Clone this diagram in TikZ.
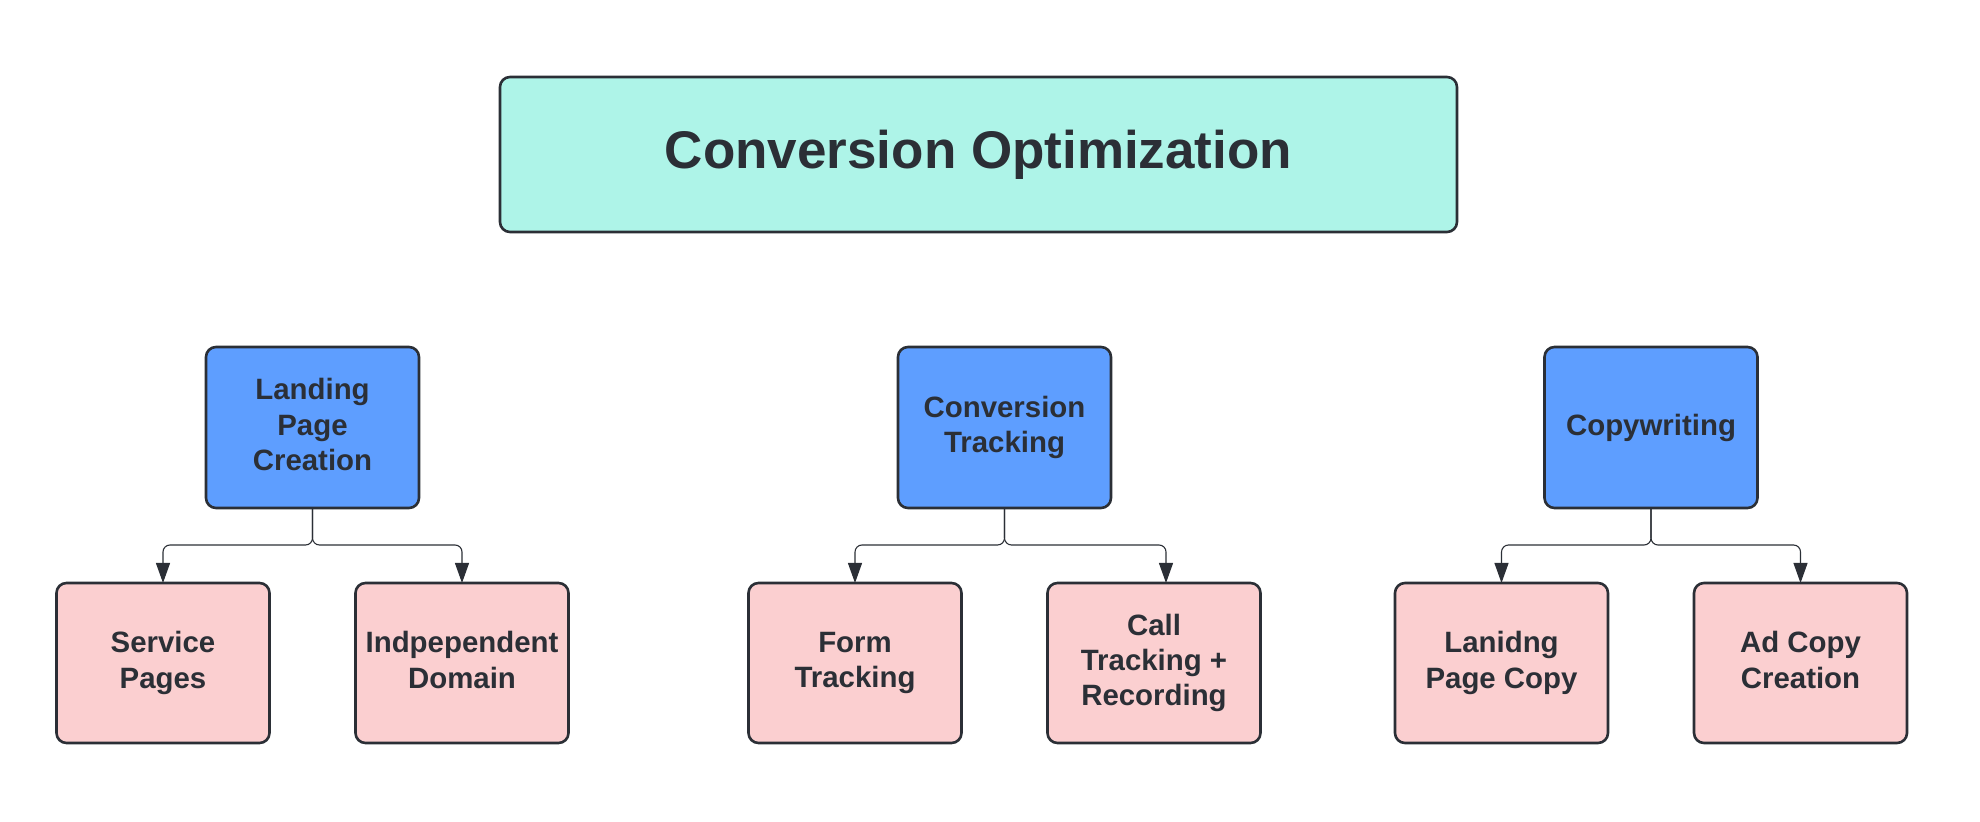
\documentclass[tikz,border=0pt]{standalone}
\usepackage{fontspec}
\setmainfont{Liberation Sans}
\usetikzlibrary{arrows.meta,positioning}
\definecolor{inkdark}{HTML}{2B2F36}
\definecolor{titlefill}{HTML}{AEF4E8}
\definecolor{topicfill}{HTML}{5E9EFF}
\definecolor{leaffill}{HTML}{FBCFD0}
\tikzset{
  titlebox/.style={rectangle, rounded corners=5pt, draw=inkdark, line width=1.3pt, outer sep=0pt, fill=titlefill, minimum width=478.5pt, minimum height=77.5pt, align=center, text=inkdark, font=\fontsize{26.5}{32}\selectfont\bfseries},
  topic/.style={rectangle, rounded corners=5pt, draw=inkdark, line width=1.3pt, outer sep=0pt, fill=topicfill, minimum width=106.5pt, minimum height=80.5pt, align=center, text=inkdark, text depth=3.1pt, font=\fontsize{14.7}{17.7}\selectfont\bfseries, inner sep=2pt},
  leaf/.style={topic, fill=leaffill, minimum height=80pt},
  conn/.style={-{Triangle[length=10pt,width=7pt]}, draw=inkdark, line width=0.55pt, rounded corners=3.5pt},
}

\begin{document}
\begin{tikzpicture}[node distance=37.5pt]
\useasboundingbox (0,0) rectangle (990pt,-411pt);
\node[titlebox] (opt) at (489.25pt,-77.25pt) {Conversion Optimization};
\node[topic, below=57.5pt of opt, xshift=-333pt] (lpc) {Landing\\Page\\Creation};
\node[topic, below=57.5pt of opt, xshift=13pt] (track) {Conversion\\Tracking};
\node[topic, below=57.5pt of opt, xshift=336.25pt] (copy) {Copywriting};
\node[leaf, below=of lpc, xshift=-74.75pt] (svc) {Service\\Pages};
\node[leaf, below=of lpc, xshift=74.75pt] (dom) {Indpependent\\Domain};
\node[leaf, below=of track, xshift=-74.75pt] (form) {Form\\Tracking};
\node[leaf, below=of track, xshift=74.75pt] (call) {Call\\Tracking +\\Recording};
\node[leaf, below=of copy, xshift=-74.75pt] (lpcopy) {Lanidng\\Page Copy};
\node[leaf, below=of copy, xshift=74.75pt] (adcopy) {Ad Copy\\Creation};
\draw[conn] (lpc.south) -- ++(0,-18.5pt) -| (svc.north);
\draw[conn] (lpc.south) -- ++(0,-18.5pt) -| (dom.north);
\draw[conn] (track.south) -- ++(0,-18.5pt) -| (form.north);
\draw[conn] (track.south) -- ++(0,-18.5pt) -| ([xshift=6pt]call.north);
\draw[conn] (copy.south) -- ++(0,-18.5pt) -| (lpcopy.north);
\draw[conn] (copy.south) -- ++(0,-18.5pt) -| (adcopy.north);
\end{tikzpicture}
\end{document}
